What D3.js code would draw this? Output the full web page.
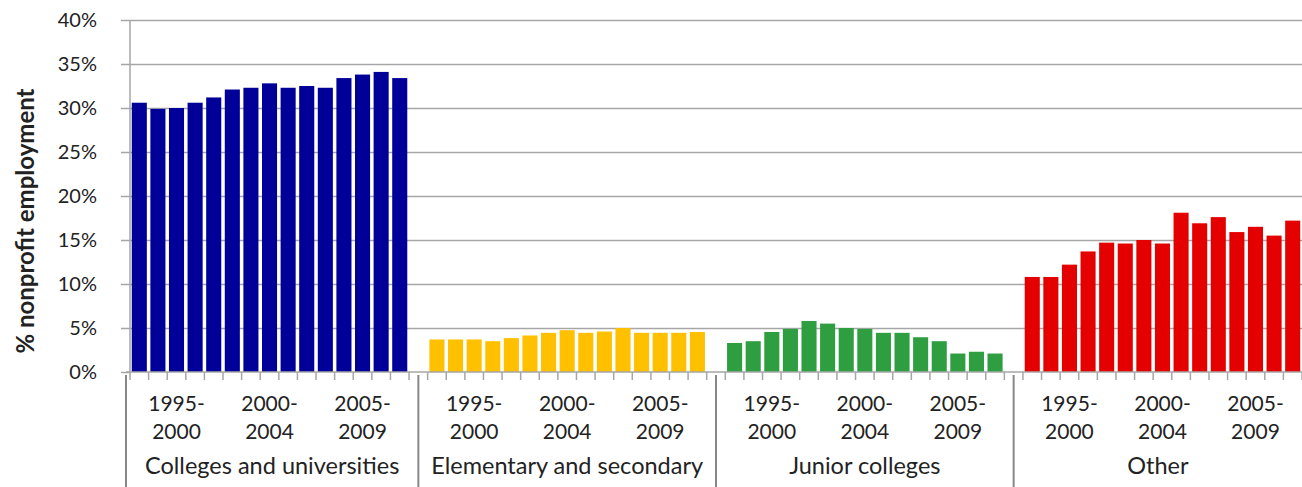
<!DOCTYPE html>
<html>
<head>
<meta charset="utf-8">
<script src="https://cdn.jsdelivr.net/npm/d3@7"></script>
<style>
  html, body { margin: 0; padding: 0; background: #fff; }
  svg { display: block; }
  text { font-family: Lato, "Open Sans", sans-serif; fill: #222; }
</style>
</head>
<body>
<script>
// ---- data ----
const groups = ["Colleges and universities", "Elementary and secondary", "Junior colleges", "Other"];
const years = [1995, 1996, 1997, 1998, 1999, 2000, 2001, 2002, 2003, 2004, 2005, 2006, 2007, 2008, 2009];
const colleges   = [30.6, 29.9, 30.0, 30.6, 31.2, 32.1, 32.3, 32.8, 32.3, 32.5, 32.3, 33.4, 33.8, 34.1, 33.4];
const elementary = [3.7, 3.7, 3.7, 3.5, 3.85, 4.15, 4.45, 4.75, 4.45, 4.6, 5.0, 4.45, 4.45, 4.45, 4.55];
const junior     = [3.3, 3.5, 4.55, 4.9, 5.8, 5.5, 5.0, 4.9, 4.45, 4.45, 3.95, 3.5, 2.1, 2.3, 2.1];
const other      = [10.8, 10.8, 12.2, 13.7, 14.7, 14.6, 15.0, 14.6, 18.1, 16.9, 17.6, 15.9, 16.5, 15.5, 17.2];
const periodLabels = [["1995-", "2000"], ["2000-", "2004"], ["2005-", "2009"]];
const periodAt = [1997, 2002, 2007];
const yTicks = [0, 5, 10, 15, 20, 25, 30, 35, 40];
const yTitle = "% nonprofit employment";
const colors = ["#000099", "#FFC000", "#2E9E40", "#E50000"];

const series = [colleges, elementary, junior, other];

// ---- layout ----
const W = 1302, H = 487;
const mLeft = 130, mRight = 1302, mTop = 20, mBottom = 372;

const slots = [];
groups.forEach((g, gi) => {
  years.forEach(yr => slots.push(gi + "-" + yr));
  if (gi < groups.length - 1) slots.push("gap-" + gi);
});

const x = d3.scaleBand().domain(slots).range([mLeft, mRight]).paddingInner(0.19).paddingOuter(0.095);
const y = d3.scaleLinear().domain([0, 40]).range([mBottom, mTop]);

const svg = d3.select("body").append("svg").attr("width", W).attr("height", H);

// gridlines
svg.append("g")
  .attr("transform", `translate(${mLeft},0)`)
  .call(d3.axisLeft(y).tickValues(yTicks.filter(d => d > 0)).tickSize(-(mRight - mLeft)).tickFormat(""))
  .call(g => g.select(".domain").remove())
  .call(g => g.selectAll("line").attr("stroke", "#a6a6a6").attr("stroke-width", 1.5));

// y axis with labels
svg.append("g")
  .attr("transform", `translate(${mLeft},0)`)
  .call(d3.axisLeft(y).tickValues(yTicks).tickSize(9).tickPadding(24).tickFormat(d => d + "%"))
  .call(g => g.select(".domain").attr("stroke", "#a6a6a6").attr("stroke-width", 1.5).attr("d", `M0,${mTop}V${mBottom}`))
  .call(g => g.selectAll("line").attr("stroke", "#a6a6a6").attr("stroke-width", 1.5))
  .call(g => g.selectAll("text").attr("font-size", 20).style("font-family", "Lato, sans-serif").attr("fill", "#222"));

// y title
svg.append("text")
  .attr("transform", `translate(34,${(mTop + mBottom) / 2 + 25}) rotate(-90)`)
  .attr("text-anchor", "middle")
  .attr("font-size", 24)
  .attr("font-weight", "bold")
  .text(yTitle);

// bars
groups.forEach((g, gi) => {
  svg.append("g").selectAll("rect")
    .data(years.map((yr, i) => ({ key: gi + "-" + yr, v: series[gi][i] })))
    .join("rect")
    .attr("x", d => x(d.key))
    .attr("width", x.bandwidth())
    .attr("y", d => y(d.v))
    .attr("height", d => y(0) - y(d.v))
    .attr("fill", colors[gi]);
});

// x axis line
svg.append("line")
  .attr("x1", mLeft - 4).attr("x2", mRight)
  .attr("y1", mBottom).attr("y2", mBottom)
  .attr("stroke", "#a6a6a6").attr("stroke-width", 1.5);

// minor ticks at every slot boundary
const step = x.step();
svg.append("g").selectAll("line")
  .data(d3.range(slots.length + 1))
  .join("line")
  .attr("x1", i => mLeft + i * step).attr("x2", i => mLeft + i * step)
  .attr("y1", mBottom).attr("y2", mBottom + 8)
  .attr("stroke", "#a6a6a6").attr("stroke-width", 1.5);

// group separators
const seps = groups.map((g, gi) => gi === 0 ? mLeft - 4 : x("gap-" + (gi - 1)) + x.bandwidth() / 2);
const sepEnds = seps.slice(1).concat([mRight]);
svg.append("g").selectAll("line")
  .data(seps)
  .join("line")
  .attr("x1", d => d).attr("x2", d => d)
  .attr("y1", mBottom + 3).attr("y2", H)
  .attr("stroke", "#888").attr("stroke-width", 2);

// period labels
groups.forEach((g, gi) => {
  periodAt.forEach((yr, pi) => {
    const cx = x(gi + "-" + yr) + x.bandwidth() / 2;
    const t = svg.append("text").attr("text-anchor", "middle").attr("font-size", 21);
    t.append("tspan").attr("x", cx).attr("y", 411).text(periodLabels[pi][0]);
    t.append("tspan").attr("x", cx).attr("y", 439).text(periodLabels[pi][1]);
  });
});

// group labels
svg.append("g").selectAll("text")
  .data(groups)
  .join("text")
  .attr("x", (d, i) => (seps[i] + sepEnds[i]) / 2)
  .attr("y", 474)
  .attr("text-anchor", "middle")
  .attr("font-size", 23.5)
  .text(d => d);
</script>
</body>
</html>
